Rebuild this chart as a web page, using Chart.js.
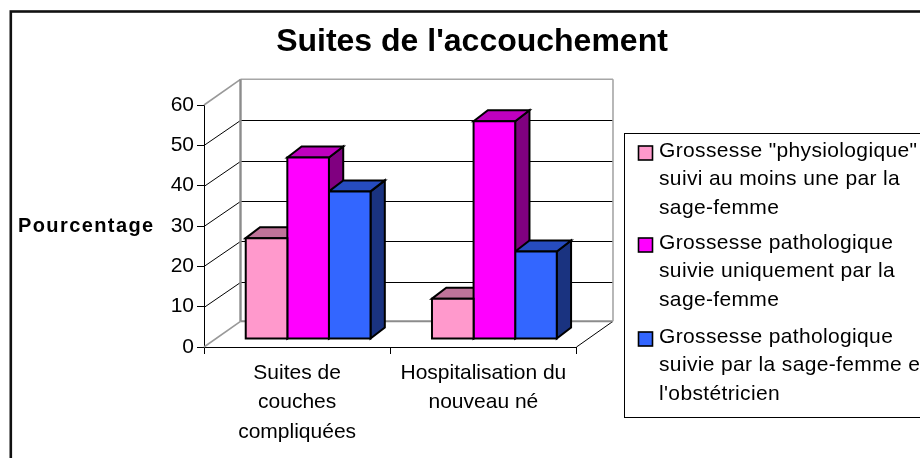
<!DOCTYPE html>
<html>
<head>
<meta charset="utf-8">
<title>Suites de l'accouchement</title>
<script src="https://cdn.jsdelivr.net/npm/chart.js@4"></script>
<style>
  html, body { margin: 0; padding: 0; background: #fff; overflow: hidden; }
  canvas { display: block; }
</style>
</head>
<body>
<canvas id="myChart" width="944" height="458"></canvas>
<script>
const titleText = "Suites de l'accouchement";
const axisName = 'Pourcentage';
const categories = [['Suites de', 'couches', 'compliquées'], ['Hospitalisation du', 'nouveau né']];
const physio = [25, 10];
const pathoSf = [45, 54];
const pathoSfObst = [36.6, 21.7];
const legendLines = [
  ['Grossesse "physiologique"', 'suivi au moins une par la', 'sage-femme'],
  ['Grossesse pathologique', 'suivie uniquement par la', 'sage-femme'],
  ['Grossesse pathologique', 'suivie par la sage-femme et', "l'obstétricien"]
];

const FONT = '"Liberation Sans", Arial, sans-serif';
// face colours: front, top, side
const pink = ['#FF99CC', '#BF7399', '#804D66'];
const magenta = ['#FF00FF', '#BF00BF', '#800080'];
const blue = ['#3366FF', '#264CBF', '#1A3380'];
const palette = [pink, magenta, blue];

// 3d look: depth of the box and how far the bars sit inside it
const wallDx = 36.5, wallDy = -25.7;
const barShiftX = 11, barShiftY = -8;
const barDx = 14.3, barDy = -11;

function poly(ctx, pts, fill, stroke, width) {
  ctx.beginPath();
  ctx.moveTo(pts[0][0], pts[0][1]);
  for (let i = 1; i < pts.length; i++) ctx.lineTo(pts[i][0], pts[i][1]);
  ctx.closePath();
  if (fill) { ctx.fillStyle = fill; ctx.fill(); }
  if (stroke) { ctx.strokeStyle = stroke; ctx.lineWidth = width; ctx.stroke(); }
}

function line(ctx, x1, y1, x2, y2, color, width) {
  ctx.beginPath();
  ctx.moveTo(x1, y1);
  ctx.lineTo(x2, y2);
  ctx.strokeStyle = color;
  ctx.lineWidth = width;
  ctx.stroke();
}

const box3d = {
  id: 'box3d',
  afterLayout(chart) {
    // title is centred on the whole frame, not on the plot side
    chart.titleBlock.left = 0;
    chart.titleBlock.right = chart.width;
  },
  beforeDatasetsDraw(chart) {
    const ctx = chart.ctx, a = chart.chartArea, yScale = chart.scales.y;
    const backX = a.left + wallDx, backR = a.right + wallDx;
    ctx.save();
    // gridlines on side wall and back wall
    yScale.ticks.forEach(function(t) {
      if (t.value === 0 || t.value === 60) return;
      const y = Math.round(yScale.getPixelForValue(t.value)) + 0.5;
      const yb = Math.round(y + wallDy) + 0.5;
      line(ctx, a.left, y, backX, yb, '#000', 1);
      line(ctx, backX, yb, backR, yb, '#000', 1);
    });
    // floor edge on the right
    line(ctx, a.right, a.bottom, backR, a.bottom + wallDy, '#000', 1);
    // grey frame of the walls
    line(ctx, a.left, a.top, backX, a.top + wallDy, '#999', 1.6);
    line(ctx, a.left, a.bottom, backX, a.bottom + wallDy, '#999', 1.6);
    line(ctx, backX, a.bottom + wallDy, backR, a.bottom + wallDy, '#8c8c8c', 2);
    line(ctx, backX, a.top + wallDy, backR, a.top + wallDy, '#a6a6a6', 1.6);
    line(ctx, backR, a.top + wallDy, backR, a.bottom + wallDy, '#a6a6a6', 1.6);
    line(ctx, backX, a.top + wallDy, backX, a.bottom + wallDy, '#8c8c8c', 2.4);
    ctx.restore();
    // bars stand in the middle of the floor
    ctx.save();
    ctx.translate(barShiftX, barShiftY);
    // sides and tops go first, series by series, the fronts then cover them
    chart.data.datasets.forEach(function(ds, i) {
      const colors = palette[i];
      chart.getDatasetMeta(i).data.forEach(function(bar) {
        const p = bar.getProps(['x', 'y', 'base', 'width'], true);
        const l = p.x - p.width / 2, r = p.x + p.width / 2;
        poly(ctx, [[r, p.y], [r + barDx, p.y + barDy], [r + barDx, p.base + barDy], [r, p.base]], colors[2], '#000', 2);
        poly(ctx, [[l, p.y], [l + barDx, p.y + barDy], [r + barDx, p.y + barDy], [r, p.y]], colors[1], '#000', 2);
      });
    });
  },
  afterDatasetDraw(chart, args) {
    const ctx = chart.ctx;
    args.meta.data.forEach(function(bar) {
      const p = bar.getProps(['x', 'y', 'base', 'width'], true);
      const l = p.x - p.width / 2, r = p.x + p.width / 2;
      poly(ctx, [[l, p.y], [r, p.y], [r, p.base], [l, p.base]], null, '#000', 2);
    });
  },
  afterDatasetsDraw(chart) {
    chart.ctx.restore();
  }
};

const extras = {
  id: 'extras',
  afterDraw(chart) {
    const ctx = chart.ctx;
    ctx.save();
    // outer frame, its right and bottom sides fall outside the window
    ctx.strokeStyle = '#111';
    ctx.lineWidth = 2.6;
    ctx.strokeRect(10.8, 11.5, 923, 480);

    // horizontal axis name
    ctx.fillStyle = '#000';
    ctx.font = 'bold 20px ' + FONT;
    ctx.textAlign = 'left';
    ctx.textBaseline = 'alphabetic';
    ctx.letterSpacing = '1.4px';
    ctx.fillText(axisName, 18, 232);

    // legend box
    ctx.strokeStyle = '#000';
    ctx.lineWidth = 1;
    ctx.fillStyle = '#fff';
    ctx.fillRect(624.5, 133.5, 330, 284);
    ctx.strokeRect(624.5, 133.5, 330, 284);

    const baselines = [157, 249, 343];
    ctx.font = '21px ' + FONT;
    ctx.letterSpacing = '0.35px';
    legendLines.forEach(function(lines, i) {
      ctx.fillStyle = palette[i][0];
      ctx.fillRect(638.5, baselines[i] - 11, 14, 14);
      ctx.strokeStyle = '#000';
      ctx.lineWidth = 1.6;
      ctx.strokeRect(638.5, baselines[i] - 11, 14, 14);
      ctx.fillStyle = '#000';
      lines.forEach(function(txt, j) {
        ctx.fillText(txt, 659, baselines[i] + j * 28.3);
      });
    });
    ctx.restore();
  }
};

new Chart(document.getElementById('myChart'), {
  type: 'bar',
  data: {
    labels: categories,
    datasets: [
      { label: legendLines[0].join(' '), data: physio, backgroundColor: pink[0] },
      { label: legendLines[1].join(' '), data: pathoSf, backgroundColor: magenta[0] },
      { label: legendLines[2].join(' '), data: pathoSfObst, backgroundColor: blue[0] }
    ]
  },
  options: {
    responsive: false,
    animation: false,
    devicePixelRatio: 1,
    layout: { padding: { left: 0, right: 367.5, top: 0, bottom: 0 } },
    datasets: { bar: { categoryPercentage: 0.67, barPercentage: 1, borderWidth: 0, clip: false } },
    plugins: {
      legend: { display: false },
      tooltip: { enabled: false },
      title: {
        display: true,
        text: titleText,
        color: '#000',
        font: { family: FONT, size: 32, weight: 'bold', lineHeight: 1.2 },
        padding: { top: 22.8, bottom: 43.8 }
      }
    },
    scales: {
      x: {
        afterFit(scale) { scale.height = 458 - 347; },
        border: { color: '#000', width: 1 },
        grid: { drawOnChartArea: false, drawTicks: true, tickLength: 7, color: '#000', offset: true },
        ticks: {
          color: '#000',
          maxRotation: 0,
          autoSkip: false,
          padding: 4,
          font: { family: FONT, size: 21, lineHeight: 1.405 }
        }
      },
      y: {
        min: 0,
        max: 60,
        afterFit(scale) { scale.width = 204; },
        border: { color: '#000', width: 1 },
        grid: { drawOnChartArea: false, drawTicks: true, tickLength: 7, color: '#000' },
        ticks: {
          stepSize: 10,
          color: '#000',
          padding: 3,
          font: { family: FONT, size: 21 }
        }
      }
    }
  },
  plugins: [box3d, extras]
});
</script>
</body>
</html>
